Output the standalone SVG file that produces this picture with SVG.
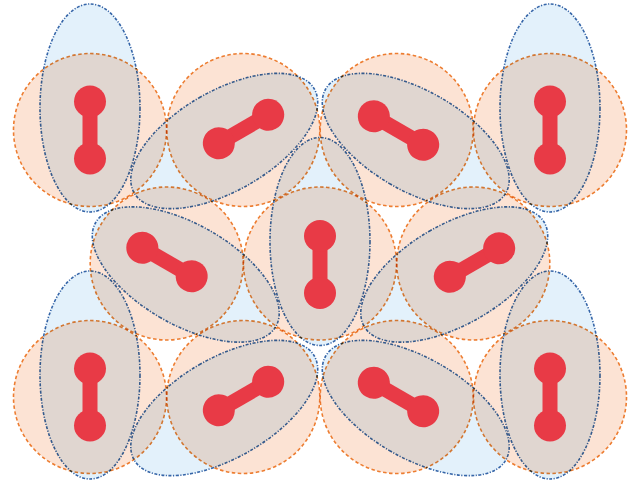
<svg xmlns="http://www.w3.org/2000/svg" width="643" height="483" viewBox="0 0 643 483">
<style>
.c{fill:#fce3d4;stroke:#ed7d31;stroke-width:1.6;stroke-dasharray:3.5 2.5;mix-blend-mode:multiply}
.e{fill:#e3f1fb;stroke:#3565a8;stroke-width:1.6;stroke-dasharray:3 1.5 1.2 1.5;mix-blend-mode:multiply}
.b{stroke:#e83a46;stroke-width:15}
.k{fill:#e83a46}
</style>
<defs>
<g id="dumb">
<line class="b" x1="0" y1="-28.5" x2="0" y2="28.5"/>
<circle class="k" cx="0" cy="-28.5" r="16"/>
<circle class="k" cx="0" cy="28.5" r="16"/>
</g>
</defs>
<g id="n1" transform="translate(90,130)"><circle class="c" r="76.5"/><ellipse class="e" cx="0" cy="-22" rx="50" ry="104"/></g>
<g id="n2" transform="translate(243.3,130) rotate(-120)"><circle class="c" r="76.5"/><ellipse class="e" cx="0" cy="-22" rx="50" ry="104"/></g>
<g id="n3" transform="translate(396.7,130) rotate(120)"><circle class="c" r="76.5"/><ellipse class="e" cx="0" cy="-22" rx="50" ry="104"/></g>
<g id="n4" transform="translate(550,130)"><circle class="c" r="76.5"/><ellipse class="e" cx="0" cy="-22" rx="50" ry="104"/></g>
<g id="n5" transform="translate(166.7,263.5) rotate(120)"><circle class="c" r="76.5"/><ellipse class="e" cx="0" cy="-22" rx="50" ry="104"/></g>
<g id="n6" transform="translate(320,263.5)"><circle class="c" r="76.5"/><ellipse class="e" cx="0" cy="-22" rx="50" ry="104"/></g>
<g id="n7" transform="translate(473.3,263.5) rotate(-120)"><circle class="c" r="76.5"/><ellipse class="e" cx="0" cy="-22" rx="50" ry="104"/></g>
<g id="n8" transform="translate(90,397)"><circle class="c" r="76.5"/><ellipse class="e" cx="0" cy="-22" rx="50" ry="104"/></g>
<g id="n9" transform="translate(243.3,397) rotate(-120)"><circle class="c" r="76.5"/><ellipse class="e" cx="0" cy="-22" rx="50" ry="104"/></g>
<g id="n10" transform="translate(396.7,397) rotate(120)"><circle class="c" r="76.5"/><ellipse class="e" cx="0" cy="-22" rx="50" ry="104"/></g>
<g id="n11" transform="translate(550,397)"><circle class="c" r="76.5"/><ellipse class="e" cx="0" cy="-22" rx="50" ry="104"/></g>
<g id="dumbbells">
<use href="#dumb" transform="translate(90,130)"/>
<use href="#dumb" transform="translate(243.5,129) rotate(-120)"/>
<use href="#dumb" transform="translate(398.5,130.5) rotate(120)"/>
<use href="#dumb" transform="translate(550,130)"/>
<use href="#dumb" transform="translate(167,262) rotate(120)"/>
<use href="#dumb" transform="translate(320,264.5)"/>
<use href="#dumb" transform="translate(474.5,262.5) rotate(-120)"/>
<use href="#dumb" transform="translate(90,397)"/>
<use href="#dumb" transform="translate(243.5,396) rotate(-120)"/>
<use href="#dumb" transform="translate(398.5,397) rotate(120)"/>
<use href="#dumb" transform="translate(550,397)"/>
</g>
<g id="connectors"/>
</svg>
